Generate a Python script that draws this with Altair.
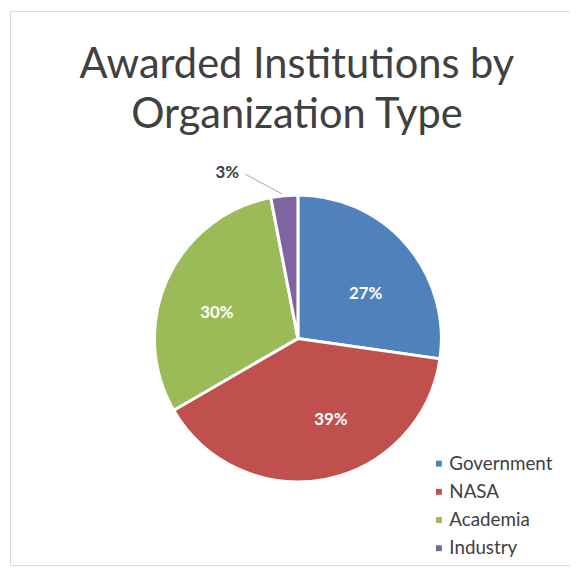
import altair as alt
import pandas as pd

# ---- data ----
categories = ["Government", "NASA", "Academia", "Industry"]
shares = [27, 39, 30, 3]  # percent
colors = ["#4F81BD", "#C0504D", "#9BBB59", "#8064A2"]
title_lines = ["Awarded Institutions by", "Organization Type"]

df = pd.DataFrame({
    "category": categories,
    "share": shares,
    "idx": list(range(len(categories))),
    "label": [f"{v}%" for v in shares],
})

CX, CY, R = 291, 331, 145
FONT = "Lato"

# label placement style (theta offset in radians, radius in px, colour)
label_style = {
    "Government": (0.131, 82, "white"),
    "NASA": (6.091, 89, "white"),
    "Academia": (6.161, 86, "white"),
    "Industry": (5.976, 182, "#404040"),
}

color_scale = alt.Scale(domain=categories, range=colors)

base = alt.Chart(df).encode(
    theta=alt.Theta("share:Q", stack=True),
    order=alt.Order("idx:Q"),
    x=alt.value(CX),
    y=alt.value(CY),
)

pie = base.mark_arc(outerRadius=R, stroke="white", strokeWidth=3).encode(
    color=alt.Color(
        "category:N",
        scale=color_scale,
        sort=categories,
        legend=alt.Legend(
            title=None,
            orient="none",
            legendX=424,
            legendY=448,
            symbolType="square",
            symbolSize=36,
            symbolStrokeWidth=0,
            labelFont=FONT,
            labelFontSize=19,
            labelColor="#404040",
            labelOffset=1,
            rowPadding=8.5,
        ),
    )
)

label_layers = []
for cat, (toff, rad, col) in label_style.items():
    label_layers.append(
        base.mark_text(
            font=FONT, fontSize=17, fontWeight="bold", color=col, thetaOffset=toff
        ).encode(
            radius=alt.value(rad),
            text=alt.condition(alt.datum.category == cat, "label:N", alt.value("")),
        )
    )

leader = alt.Chart(df).transform_filter("datum.share < 5").mark_rule(
    color="#A6A6A6", strokeWidth=1
).encode(x=alt.value(238), y=alt.value(165), x2=alt.value(275), y2=alt.value(185))

title_df = pd.DataFrame({"line": title_lines, "row": [0, 1]})
title = alt.Chart(title_df).mark_text(
    font=FONT, fontSize=42, color="#404040", baseline="alphabetic", align="center"
).encode(
    x=alt.value(290),
    y=alt.Y("row:Q", scale=alt.Scale(domain=[0, 1], range=[68, 118]), axis=None),
    text="line:N",
)

chart = alt.layer(pie, *label_layers, leader, title).properties(
    width=566, height=560,
    autosize=alt.AutoSizeParams(type="none"),
    padding={"left": 2, "top": 0, "right": 0, "bottom": 0},
    background="white",
).configure_view(stroke="#D9D9D9", strokeWidth=1)

chart.save("out.html", embed_options={"renderer": "svg", "actions": False})
